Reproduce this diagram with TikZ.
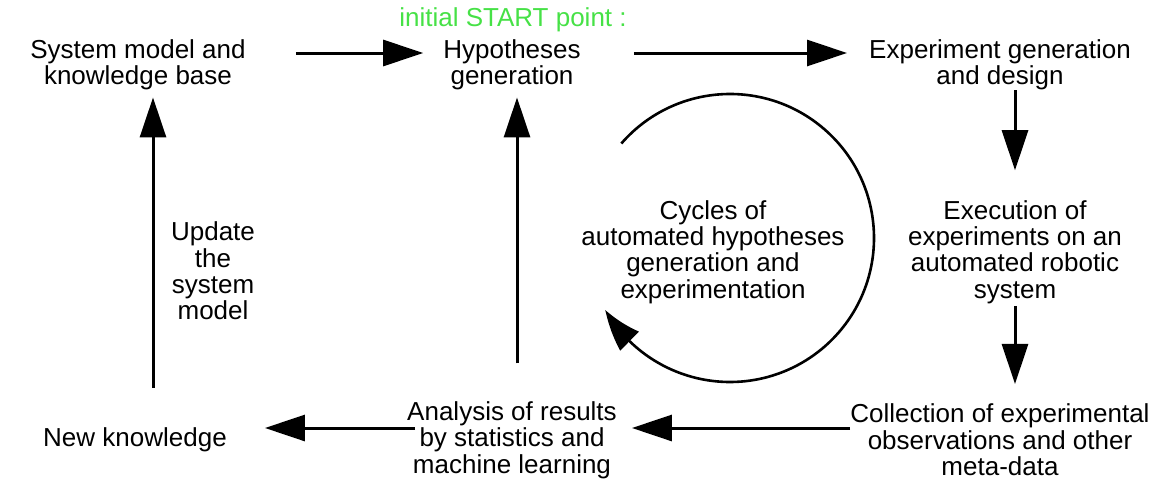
\documentclass[tikz,border=0pt]{standalone}
\usepackage{fontspec}
\setmainfont{Liberation Sans}
\usetikzlibrary{arrows.meta,bending}
\definecolor{startgreen}{RGB}{70,225,70}
\tikzset{
  txt/.style={font=\fontsize{26}{26.3}\selectfont, align=center, inner sep=0pt},
  arr/.style={line width=3pt, -{Triangle[length=40pt,width=26pt]}},
  circarr/.style={line width=2.6pt, -{Triangle[length=40pt,width=26pt,bend]}}
}
\begin{document}
\begin{tikzpicture}[x=1pt,y=-1pt]
\useasboundingbox (0,0) rectangle (1171,485);
\node[txt, text=startgreen] (start) at (513,20) {initial START point :};
\node[txt] (sys) at (138,65) {System model and\\knowledge base};
\node[txt] (hyp) at (512,65) {Hypotheses\\generation};
\node[txt] (exp) at (1000,65) {Experiment generation\\and design};
\node[txt] (exe) at (1015,252) {Execution of\\experiments on an\\automated robotic\\system};
\node[txt] (cyc) at (713,252) {Cycles of\\automated hypotheses\\generation and\\experimentation};
\node[txt] (upd) at (213,271) {Update\\the\\system\\model};
\node[txt] (col) at (1000,440) {Collection of experimental\\observations and other\\meta-data};
\node[txt] (ana) at (512,440) {Analysis of results\\by statistics and\\machine learning};
\node[txt] (new) at (135,440) {New knowledge};
\coordinate (cc) at (730,238);

\draw[arr, shorten <=50pt, shorten >=20pt] ([yshift=12pt]sys.east) -- ([yshift=12pt]hyp.west);
\draw[arr, shorten <=53pt, shorten >=22pt] ([yshift=12pt]hyp.east) -- ([yshift=12pt]exp.west);
\draw[arr, shorten >=30pt] (exe.north |- exp.south) -- (exe.north);
\draw[arr, shorten <=2pt, shorten >=20pt] (exe.south) -- (exe.south |- col.north);
\draw[arr, shorten >=15pt] ([yshift=12pt]col.west) -- ([yshift=12pt]ana.east);
\draw[arr, shorten <=-8pt, shorten >=38pt] ([yshift=12pt]ana.west) -- ([yshift=12pt]new.east);
\draw[arr, shorten <=40pt, shorten >=7pt] ([xshift=18pt]new.north) -- ([xshift=15pt]sys.south);
\draw[arr, shorten <=38pt, shorten >=7pt] ([xshift=5pt]ana.north) -- ([xshift=5pt]hyp.south);
\draw[circarr] ([shift={(139:144pt)}]cc) arc[start angle=139, end angle=-150, radius=144pt];
\end{tikzpicture}
\end{document}
